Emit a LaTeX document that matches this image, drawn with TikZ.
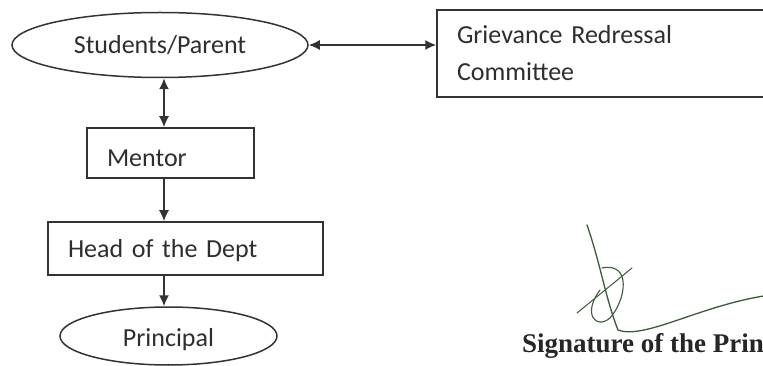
\documentclass[tikz,border=0pt]{standalone}
\usepackage{fontspec}
\setmainfont{Carlito}
\newfontfamily\signfont{Liberation Serif}
\usepackage{tikz}
\usetikzlibrary{shapes.geometric,arrows.meta}

\definecolor{inkgray}{HTML}{333333}
\definecolor{textgray}{HTML}{2E2E2E}
\definecolor{signgreen}{HTML}{3E5A3C}

\tikzset{
  oval/.style={ellipse,draw=inkgray,line width=1.5pt,text=textgray,
    font=\fontsize{26}{31}\selectfont},
  stepbox/.style={rectangle,draw=inkgray,line width=1.5pt,text=textgray,
    align=left,inner xsep=20pt,font=\fontsize{26}{37}\selectfont},
  flow/.style={draw=inkgray,line width=1.6pt,-{Latex[length=11pt,width=10pt]}},
  duplex/.style={flow,{Latex[length=11pt,width=10pt]}-{Latex[length=11pt,width=10pt]}}
}

\begin{document}
\begin{tikzpicture}[x=1pt,y=-1pt]
  \clip (0,0) rectangle (763,366);
  \fill[white] (0,0) rectangle (763,366);
  \coordinate (spine) at (164,0);

  % chain of the complaint
  \node[oval,minimum width=296pt,minimum height=65pt] (students) at (160,45) {Students/Parent};
  \node[stepbox,minimum height=87pt,text width=322pt] (grc) at (618,53.5)
    {Grievance Redressal\\Committee};
  \node[stepbox,minimum height=50pt,text width=127pt,text height=28pt,text depth=0pt]
    (mentor) at (170.5,153) {Mentor};
  \node[stepbox,minimum height=53pt,text width=235pt,text height=19pt,text depth=0pt]
    (hod) at (185.5,248.5) {Head of the Dept};
  \node[oval,minimum width=217pt,minimum height=58pt,text height=20pt,text depth=0pt]
    (principal) at (168.5,336) {Principal};

  \draw[duplex] (students.east) -- (grc.west |- students.east);
  \draw[duplex] (students.south -| spine) -- (mentor.north -| spine);
  \draw[flow] (mentor.south -| spine) -- (hod.north -| spine);
  \draw[flow] (hod.south -| spine) -- (principal.north -| spine);

  % signature
  \draw[signgreen,line width=1.3pt,line cap=round]
    (587,225) .. controls (600,262) and (606,300) .. (618,330)
    .. controls (645,340) and (700,305) .. (770,295);
  \draw[signgreen,line width=1.1pt,line cap=round]
    (602,268) .. controls (632,262) and (626,300) .. (610,318)
    .. controls (596,330) and (582,314) .. (600,290);
  \draw[signgreen,line width=1pt,line cap=round] (577,313) -- (632,268);
  \node[anchor=base west,inner sep=0pt,text=black!85,
    font=\signfont\bfseries\fontsize{27}{32}\selectfont] (sign) at (522,352)
    {Signature of the Prin};
\end{tikzpicture}
\end{document}
